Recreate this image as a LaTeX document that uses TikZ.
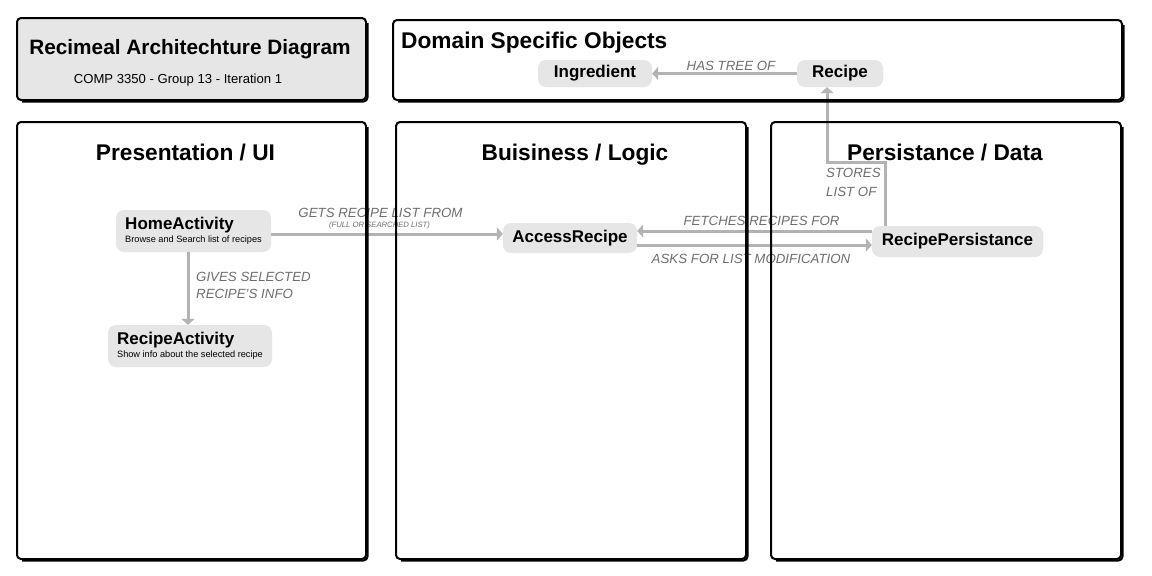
\documentclass[tikz,border=0pt]{standalone}
\usepackage{fontspec}
\setmainfont{Liberation Sans}
\usetikzlibrary{arrows.meta}
\definecolor{boxgray}{HTML}{E6E6E6}
\definecolor{nodegray}{HTML}{E6E6E6}
\definecolor{arrgray}{HTML}{B3B3B3}
\definecolor{lblgray}{HTML}{6E6E6E}
\newcommand\panelbox[4]{%
  \draw[line width=2pt, rounded corners=4pt] (#1,#2) rectangle (#3,#4);
  \draw[line width=2pt, rounded corners=4pt] (#3+1.5,#2+5) -- (#3+1.5,#4+1.5) -- (#1+5,#4+1.5);
}
\newcommand\subfont{\normalfont\fontsize{9.2}{13}\selectfont}
\begin{document}
\begin{tikzpicture}[x=1pt,y=-1pt,
  comp/.style={fill=nodegray, rounded corners=8pt, inner sep=0pt, align=left,
    font=\bfseries\fontsize{17}{13}\selectfont, text=black},
  arr/.style={draw=arrgray, line width=3pt, -{Triangle[width=13pt,length=6pt]}},
  lbl/.style={font=\itshape\fontsize{13.3}{17}\selectfont, text=lblgray, inner sep=0pt, align=left},
  heading/.style={font=\bfseries\fontsize{22.7}{26}\selectfont, inner sep=0pt, anchor=base},
]
\useasboundingbox (0,0) rectangle (1152,576);
\fill[white] (0,0) rectangle (1152,576);
\fill[boxgray, rounded corners=4pt] (17,18) rectangle (366,100);

% titles
\node[font=\bfseries\fontsize{20.8}{24}\selectfont, inner sep=0pt, anchor=base] (title) at (190,54) {Recimeal Architechture Diagram};
\node[font=\fontsize{13.1}{16}\selectfont, inner sep=0pt, anchor=base] (subtitle) at (178,83) {COMP 3350 - Group 13 - Iteration 1};
\node[heading, anchor=base west] (domain) at (401,48) {Domain Specific Objects};
\node[heading] (pres) at (185.5,160) {Presentation / UI};
\node[heading] (bus) at (575,160) {Buisiness / Logic};
\node[heading] (pers) at (945,160) {Persistance / Data};

% components
\node[comp, minimum width=114pt, minimum height=27pt] (ingredient) at (595,73.5) {Ingredient};
\node[comp, minimum width=86pt, minimum height=27pt] (recipe) at (840,73.5) {Recipe};
\node[comp, minimum width=155pt, minimum height=42pt] (home) at (193.5,231) {HomeActivity\\{\subfont Browse and Search list of recipes}};
\node[comp, minimum width=164pt, minimum height=42pt] (recact) at (190,346) {RecipeActivity\\{\subfont Show info about the selected recipe}};
\node[comp, minimum width=134pt, minimum height=30pt] (access) at (570,238) {AccessRecipe};
\node[comp, minimum width=171pt, minimum height=31pt] (persist) at (957.5,241.5) {RecipePersistance};

% connectors
\draw[arr] (recipe.west) -- (ingredient.east);
\draw[arr] ([yshift=-3pt]home.east) -- ([yshift=4pt]access.west);
\draw[arr] ([xshift=-5.5pt]home.south) -- ([xshift=-2pt]recact.north);
\draw[arr] ([yshift=10.5pt]persist.west) -- ([yshift=7pt]access.east);
\draw[arr] ([yshift=-7pt]access.east) -- ([yshift=-3.5pt]persist.west);
\draw[arr] ([xshift=-72.5pt]persist.north) -- ++(0,-63) -| ([xshift=-13pt]recipe.south);

% labels
\node[lbl] (l1) at (731,66) {HAS TREE OF};
\node[lbl] (l2) at (380.5,213) {GETS RECIPE LIST FROM};
\node[lbl, font=\itshape\fontsize{7.7}{9}\selectfont] (l2b) at (379.5,226) {(FULL OR SEARCHED LIST)};
\node[lbl, anchor=west] (l3) at (196,285.5) {GIVES SELECTED\\RECIPE'S INFO};
\node[lbl, anchor=west, font=\itshape\fontsize{13.3}{19}\selectfont] (l4) at (826,182.5) {STORES\\LIST OF};
\node[lbl] (l5) at (761.5,221) {FETCHES RECIPES FOR};
\node[lbl] (l6) at (751,259) {ASKS FOR LIST MODIFICATION};

% panels
\panelbox{17}{18}{366}{100}
\panelbox{393}{20}{1122}{100}
\panelbox{17}{122}{366}{559}
\panelbox{396}{122}{746}{559}
\panelbox{771}{122}{1121}{559}
\end{tikzpicture}
\end{document}
